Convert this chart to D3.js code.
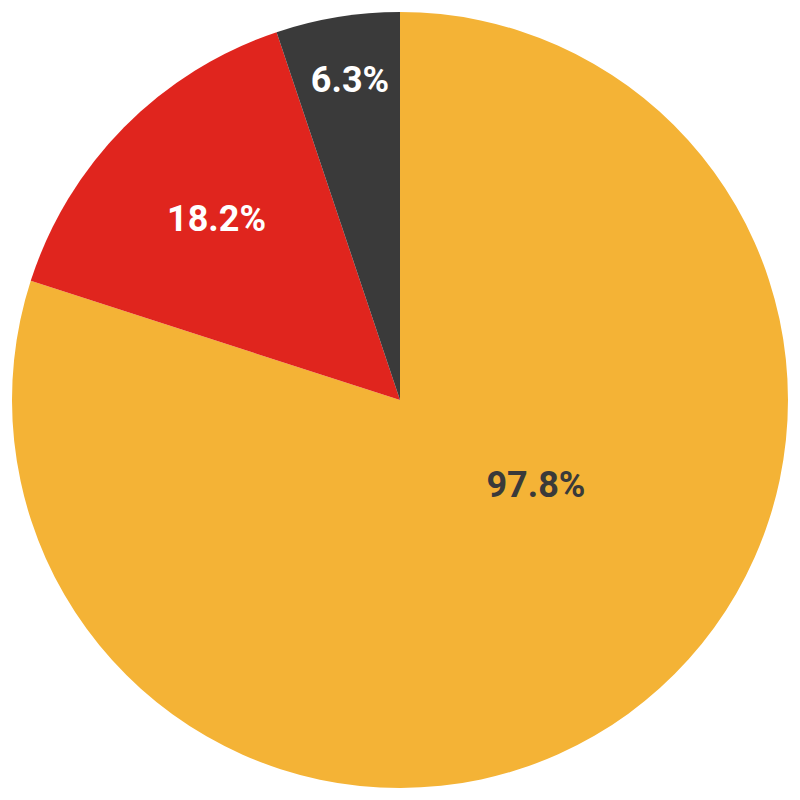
<!DOCTYPE html>
<html>
<head>
<meta charset="utf-8">
<script src="https://cdn.jsdelivr.net/npm/d3@7"></script>
<style>
  html, body { margin: 0; padding: 0; background: #ffffff; }
  svg { display: block; }
</style>
</head>
<body>
<svg id="chart" width="800" height="800"></svg>
<script>
const labels = ["97.8%", "18.2%", "6.3%"];
const values = [97.8, 18.2, 6.3];
const colors = ["#F4B336", "#E0251E", "#3A3A3A"];
const textColors = ["#3A3A3A", "#FFFFFF", "#FFFFFF"];
// label placement: fraction of radius, angular shift from slice middle (degrees)
const labelRadiusFrac = [0.413, 0.665, 0.835];
const labelAngleShift = [-22, 0, 0.4];

const W = 800, H = 800;
const cx = 400, cy = 400, R = 388;

const svg = d3.select("#chart");
const g = svg.append("g").attr("transform", `translate(${cx},${cy})`);

const pie = d3.pie().sort(null).value(d => d)(values);
const arc = d3.arc().innerRadius(0).outerRadius(R);

g.selectAll("path.slice")
  .data(pie)
  .join("path")
  .attr("class", "slice")
  .attr("d", arc)
  .attr("fill", (d, i) => colors[i]);

g.selectAll("text.lbl")
  .data(pie)
  .join("text")
  .attr("class", "lbl")
  .attr("x", (d, i) => {
    const a = (d.startAngle + d.endAngle) / 2 + labelAngleShift[i] * Math.PI / 180;
    return Math.sin(a) * R * labelRadiusFrac[i];
  })
  .attr("y", (d, i) => {
    const a = (d.startAngle + d.endAngle) / 2 + labelAngleShift[i] * Math.PI / 180;
    return -Math.cos(a) * R * labelRadiusFrac[i];
  })
  .attr("text-anchor", "middle")
  .attr("dominant-baseline", "central")
  .attr("font-family", "Roboto, 'Open Sans', sans-serif")
  .attr("font-weight", 700)
  .attr("font-size", 36)
  .attr("fill", (d, i) => textColors[i])
  .text((d, i) => labels[i]);
</script>
</body>
</html>
